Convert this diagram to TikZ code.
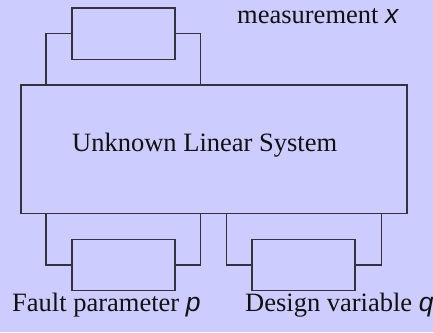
\documentclass[tikz,border=0pt]{standalone}
\usepackage{fontspec}
\setmainfont{Liberation Serif}
\newfontfamily\varfont{Liberation Sans}
\definecolor{bgcol}{HTML}{CCCCFF}
\definecolor{linecol}{HTML}{333340}
\definecolor{txtcol}{HTML}{111111}
\begin{document}
\begin{tikzpicture}[x=1pt,y=-1pt,
  blk/.style={draw=linecol,line width=1.2pt,inner sep=0pt,minimum width=103pt,minimum height=51.5pt},
  wire/.style={draw=linecol,line width=1.2pt},
  lbl/.style={anchor=base west,inner sep=0pt,text=txtcol,font=\fontsize{26.5}{30}\selectfont}]
\fill[bgcol] (0,0) rectangle (433,332);
\useasboundingbox (0,0) rectangle (433,332);
\node[draw=linecol,line width=1.2pt,inner sep=0pt,minimum width=386pt,minimum height=128.3pt] (sys) at (214,149.2) {};
\node[blk] (meas) at (123.5,33.75) {};
\node[blk] (fault) at (123.5,265) {};
\node[blk] (design) at (303.5,265) {};
\coordinate (tl) at (46,85);
\coordinate (tr) at (200.7,85);
\coordinate (bl) at (46,213.3);
\coordinate (br) at (200.7,213.3);
\coordinate (dl) at (226.7,213.3);
\coordinate (dr) at (381.3,213.3);
\draw[wire] (meas.west) -| (tl);
\draw[wire] (meas.east) -| (tr);
\draw[wire] (fault.west) -| (bl);
\draw[wire] (fault.east) -| (br);
\draw[wire] (design.west) -| (dl);
\draw[wire] (design.east) -| (dr);
\node[lbl] (tm) at (237,23.3) {measurement {\varfont\itshape x}};
\node[lbl] (ts) at (72,151.7) {Unknown Linear System};
\node[lbl] (tf) at (12,311.7) {Fault parameter {\varfont\itshape p}};
\node[lbl] (td) at (245,311.7) {Design variable {\varfont\itshape q}};
\end{tikzpicture}
\end{document}
